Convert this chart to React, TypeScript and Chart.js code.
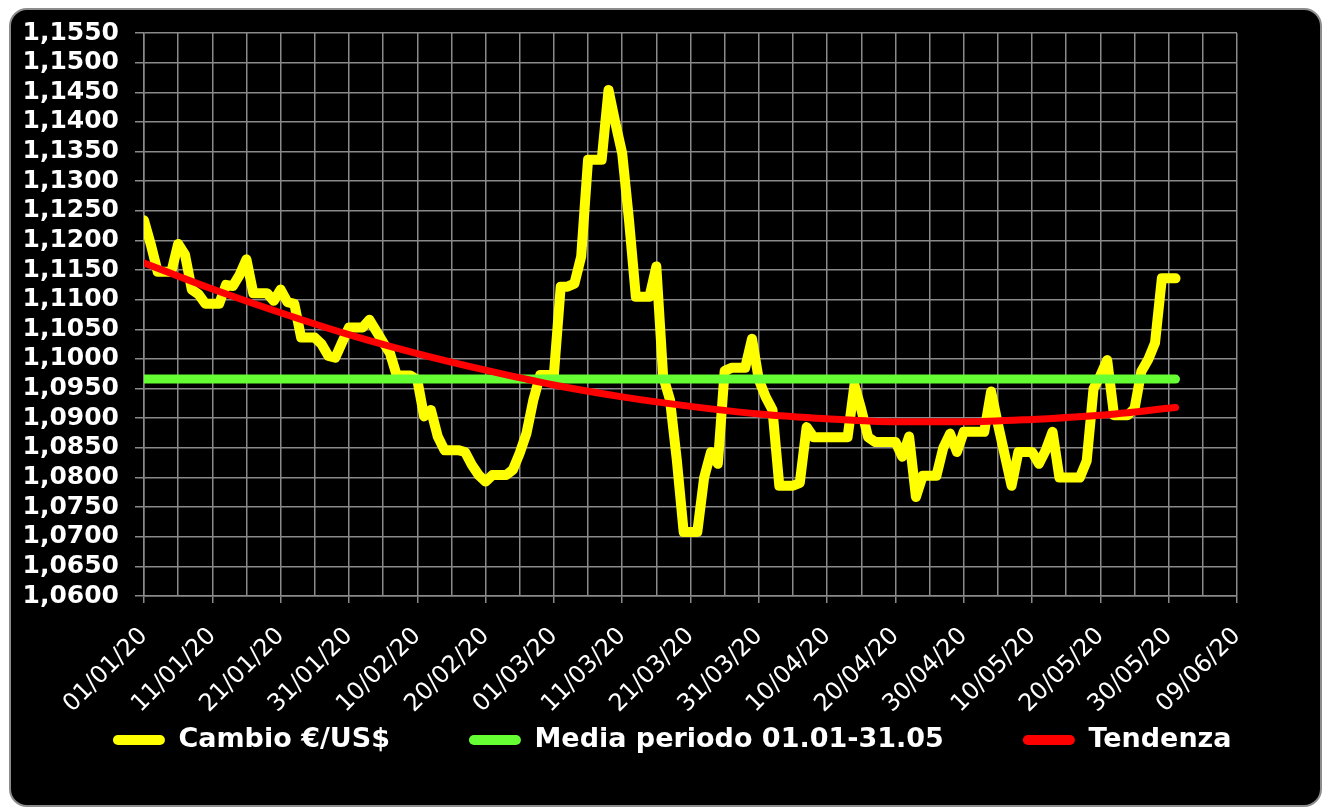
import React, { useEffect, useRef } from 'react';
import { Chart, registerables } from 'chart.js';

Chart.register(...registerables);

// Tick labels of the date axis (one every 10 days, starting 01/01/20)
const xTickLabels = [
  '01/01/20', '11/01/20', '21/01/20', '31/01/20', '10/02/20', '20/02/20',
  '01/03/20', '11/03/20', '21/03/20', '31/03/20', '10/04/20', '20/04/20',
  '30/04/20', '10/05/20', '20/05/20', '30/05/20', '09/06/20',
];

// Daily EUR/USD rate, day 0 = 01/01/20 ... day 151 = 31/05/20
const rateValues = [
  1.1234, 1.1193, 1.1147, 1.1147, 1.1147, 1.1194, 1.1176, 1.1117, 1.1109, 1.1093,
  1.1093, 1.1093, 1.1125, 1.1123, 1.1142, 1.1168, 1.1111, 1.1111, 1.1111, 1.1098,
  1.1117, 1.1096, 1.1093, 1.1036, 1.1036, 1.1036, 1.1025, 1.1005, 1.1002, 1.1028,
  1.1053, 1.1053, 1.1053, 1.1066, 1.1047, 1.1028, 1.1010, 1.0972, 1.0972, 1.0972,
  1.0965, 1.0903, 1.0914, 1.0869, 1.0846, 1.0846, 1.0846, 1.0843, 1.0821, 1.0804,
  1.0793, 1.0804, 1.0804, 1.0804, 1.0813, 1.0841, 1.0875, 1.0931, 1.0973, 1.0973,
  1.0973, 1.1122, 1.1122, 1.1127, 1.1173, 1.1336, 1.1336, 1.1336, 1.1454, 1.1398,
  1.1347, 1.1234, 1.1105, 1.1105, 1.1105, 1.1156, 1.0970, 1.0931, 1.0829, 1.0708,
  1.0708, 1.0708, 1.0800, 1.0843, 1.0823, 1.0980, 1.0985, 1.0985, 1.0985, 1.1034,
  1.0965, 1.0936, 1.0914, 1.0786, 1.0786, 1.0786, 1.0791, 1.0885, 1.0868, 1.0868,
  1.0868, 1.0868, 1.0868, 1.0868, 1.0956, 1.0915, 1.0868, 1.0860, 1.0860, 1.0860,
  1.0860, 1.0835, 1.0869, 1.0767, 1.0803, 1.0803, 1.0803, 1.0850, 1.0874, 1.0843,
  1.0877, 1.0877, 1.0877, 1.0877, 1.0945, 1.0890, 1.0838, 1.0786, 1.0843, 1.0843,
  1.0843, 1.0823, 1.0846, 1.0877, 1.0800, 1.0800, 1.0800, 1.0800, 1.0828, 1.0950,
  1.0972, 1.0998, 1.0905, 1.0905, 1.0905, 1.0916, 1.0979, 1.0999, 1.1027, 1.1136,
  1.1136, 1.1136,
];

// Period average (flat line from 01/01 to 31/05)
const averageDays = [0, 151];
const averageValues = [1.0966, 1.0966];

// Trend line
const trendDays = [0, 10, 20, 30, 40, 50, 60, 70, 80, 90, 100, 110, 120, 130, 140, 151];
const trendValues = [
  1.1162, 1.1118, 1.1078, 1.1041, 1.1009, 1.0981, 1.0956, 1.0936,
  1.0920, 1.0907, 1.0899, 1.0894, 1.0894, 1.0898, 1.0905, 1.0918,
];

const seriesNames = ['Cambio €/US$', 'Media periodo 01.01-31.05', 'Tendenza'];
const seriesColors = ['#FFFF00', '#66FF33', '#FF0000'];

const yMin = 1.06;
const yMax = 1.155;
const yStep = 0.005;
const xMaxDay = 160;
const xStep = 5;

export default function App() {
  const canvasRef = useRef<HTMLCanvasElement>(null);

  useEffect(() => {
    const gridColor = '#8a8a8a';
    const clip = { left: 0, top: 12, right: 12, bottom: 12 };
    const noLabelClip = (s: any) => { s._computeLabelArea = () => undefined; };
    const chart = new Chart(canvasRef.current as HTMLCanvasElement, {
      type: 'line',
      data: {
        datasets: [
          {
            label: seriesNames[0],
            data: rateValues.map((v, i) => ({ x: i, y: v })),
            borderColor: seriesColors[0],
            backgroundColor: seriesColors[0],
            borderWidth: 10,
            pointRadius: 0,
            tension: 0,
            borderJoinStyle: 'round',
            borderCapStyle: 'round',
            order: 3,
            clip,
          },
          {
            label: seriesNames[1],
            data: averageDays.map((d, i) => ({ x: d, y: averageValues[i] })),
            borderColor: seriesColors[1],
            backgroundColor: seriesColors[1],
            borderWidth: 9,
            pointRadius: 0,
            borderCapStyle: 'round',
            order: 2,
            clip,
          },
          {
            label: seriesNames[2],
            data: trendDays.map((d, i) => ({ x: d, y: trendValues[i] })),
            borderColor: seriesColors[2],
            backgroundColor: seriesColors[2],
            borderWidth: 7,
            pointRadius: 0,
            cubicInterpolationMode: 'monotone',
            borderCapStyle: 'round',
            order: 1,
            clip,
          },
        ],
      },
      options: {
        animation: false,
        responsive: false,
        devicePixelRatio: 1,
        events: [],
        layout: { padding: { left: 19.5, right: 0, top: 33, bottom: 46.5 } },
        scales: {
          x: {
            type: 'linear',
            min: 0,
            max: xMaxDay,
            afterFit: (s: any) => { s.height = 51.5; noLabelClip(s); },
            ticks: {
              stepSize: xStep,
              maxTicksLimit: 100,
              autoSkip: false,
              minRotation: 45,
              maxRotation: 45,
              padding: 19,
              color: '#ffffff',
              font: { family: 'DejaVu Sans', size: 24 },
              callback: (v: any) => (Number(v) % 10 === 0 ? xTickLabels[Number(v) / 10] : ''),
            },
            grid: {
              color: gridColor,
              lineWidth: 1.5,
              tickLength: 7,
              tickColor: (c: any) => (c.tick && c.tick.value % 10 === 0 ? gridColor : 'rgba(0,0,0,0)'),
            },
            border: { color: gridColor, width: 1.5 },
          },
          y: {
            type: 'linear',
            min: yMin,
            max: yMax,
            afterFit: (s: any) => { s.width = 124.5; noLabelClip(s); },
            ticks: {
              stepSize: yStep,
              maxTicksLimit: 100,
              autoSkip: false,
              padding: 16,
              color: '#ffffff',
              font: { family: 'DejaVu Sans', size: 25, weight: 'bold' },
              callback: (v: any) => Number(v).toFixed(4).replace('.', ','),
            },
            grid: { color: gridColor, lineWidth: 1.5, tickLength: 9, tickColor: gridColor },
            border: { color: gridColor, width: 1.5 },
          },
          yPad: {
            type: 'linear',
            position: 'right',
            display: true,
            afterFit: (s: any) => { s.width = 88; },
            grid: { display: false, drawTicks: false },
            border: { display: false },
            ticks: { display: false },
          },
        },
        plugins: {
          tooltip: { enabled: false },
          legend: {
            position: 'bottom',
            align: 'center',
            labels: {
              color: '#ffffff',
              font: { family: 'DejaVu Sans', size: 27, weight: 'bold' },
              boxWidth: 52,
              boxHeight: 10,
              padding: 79,
              useBorderRadius: true,
              borderRadius: 5,
              sort: (a: any, b: any) => a.datasetIndex - b.datasetIndex,
              generateLabels: (ch: any) =>
                (Chart.defaults.plugins.legend.labels.generateLabels as any)(ch).map((it: any) => ({
                  ...it,
                  fillStyle: it.strokeStyle,
                  lineWidth: 0,
                  borderRadius: 5,
                })),
            },
          },
        },
      } as any,
    });
    return () => chart.destroy();
  }, []);

  return (
    <div style={{ position: 'absolute', left: 0, top: 0, width: 1325, height: 810, background: '#ffffff', overflow: 'hidden' }}>
      <div
        style={{
          position: 'absolute',
          left: 9,
          top: 8,
          width: 1313,
          height: 799,
          boxSizing: 'border-box',
          background: '#000000',
          border: '2px solid #8c8c8c',
          borderRadius: 18,
        }}
      />
      <canvas
        ref={canvasRef}
        width={1325}
        height={810}
        style={{ position: 'absolute', left: 0, top: 0, width: 1325, height: 810 }}
      />
    </div>
  );
}
